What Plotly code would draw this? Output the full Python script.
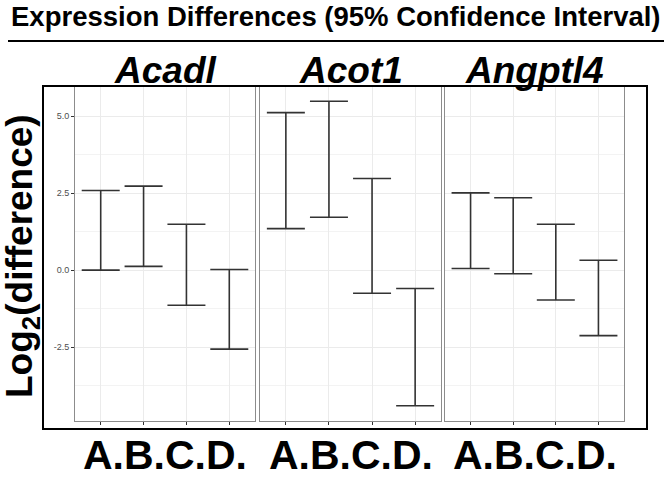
import plotly.graph_objects as go

# values (log2 difference, 95% CI)
genes = ['Acadl', 'Acot1', 'Angptl4']
groups = ['A', 'B', 'C', 'D']
acadl_lo = [0.00, 0.12, -1.14, -2.57]
acadl_hi = [2.59, 2.73, 1.49, 0.02]
acot1_lo = [1.35, 1.72, -0.75, -4.41]
acot1_hi = [5.12, 5.49, 2.98, -0.60]
angptl4_lo = [0.05, -0.12, -0.97, -2.13]
angptl4_hi = [2.51, 2.35, 1.49, 0.32]
y_ticks = [-2.5, 0.0, 2.5, 5.0]
group_label = 'A.B.C.D.'

W, H = 670, 478


def px(x):
    return x / W


def py(y):
    return 1 - y / H


lows = [acadl_lo, acot1_lo, angptl4_lo]
highs = [acadl_hi, acot1_hi, angptl4_hi]

all_vals = sum(lows, []) + sum(highs, [])
span = max(all_vals) - min(all_vals)
y_range = [min(all_vals) - 0.05 * span, max(all_vals) + 0.05 * span]

panels = [(75, 255), (260, 441), (445, 624)]
y_dom = [py(421), py(86)]

fig = go.Figure()

for n, gene in enumerate(genes):
    lo, hi = lows[n], highs[n]
    mid = [(a + b) / 2 for a, b in zip(lo, hi)]
    ax = '' if n == 0 else str(n + 1)
    fig.add_trace(go.Scatter(
        x=groups, y=mid, mode='markers',
        marker=dict(size=1, color='rgba(0,0,0,0)'),
        error_y=dict(type='data', symmetric=False,
                     array=[b - m for b, m in zip(hi, mid)],
                     arrayminus=[m - a for a, m in zip(lo, mid)],
                     width=19, thickness=1.6, color='#333333'),
        xaxis='x' + ax, yaxis='y' + ax, showlegend=False, hoverinfo='skip'))

    xa = dict(domain=[px(panels[n][0]), px(panels[n][1])], type='category',
              range=[-0.6, 3.6], showticklabels=False, ticks='outside',
              ticklen=3, tickcolor='#333333', showgrid=True,
              gridcolor='#ebebeb', gridwidth=1, showline=True,
              linecolor='#8c8c8c', linewidth=1, mirror=True, zeroline=False,
              anchor='y' + ax)
    ya = dict(domain=y_dom, range=y_range, tickvals=y_ticks,
              ticktext=['%.1f' % v for v in y_ticks], showgrid=True,
              gridcolor='#ebebeb', gridwidth=1,
              minor=dict(tick0=1.25, dtick=2.5, showgrid=True,
                         gridcolor='#f3f3f3', gridwidth=1),
              showline=True, linecolor='#8c8c8c', linewidth=1, mirror=True,
              zeroline=False, anchor='x' + ax,
              ticks='outside' if n == 0 else '', ticklen=3,
              tickcolor='#333333', showticklabels=(n == 0),
              tickfont=dict(family='Liberation Sans', size=9, color='#4d4d4d'))
    fig.update_layout({'xaxis' + ax: xa, 'yaxis' + ax: ya})

    cx = (panels[n][0] + panels[n][1]) / 2
    fig.add_annotation(x=px(cx), y=py(70), xref='paper', yref='paper',
                       text='<b><i>%s</i></b>' % gene, showarrow=False,
                       font=dict(family='Liberation Sans', size=37, color='black'),
                       xanchor='center', yanchor='middle')
    fig.add_annotation(x=px(cx), y=py(455), xref='paper', yref='paper',
                       text='<b>%s</b>' % group_label, showarrow=False,
                       font=dict(family='Liberation Sans', size=41, color='black'),
                       xanchor='center', yanchor='middle')

fig.add_annotation(x=px(336), y=py(17), xref='paper', yref='paper',
                   text='<b>Expression Differences (95% Confidence Interval)</b>',
                   showarrow=False,
                   font=dict(family='Liberation Sans', size=27.5, color='black'),
                   xanchor='center', yanchor='middle')
fig.add_annotation(x=px(22), y=py(256), xref='paper', yref='paper',
                   text='<b>Log<sub>2</sub>(difference)</b>', showarrow=False,
                   textangle=-90,
                   font=dict(family='Liberation Sans', size=37, color='black'),
                   xanchor='center', yanchor='middle')

fig.add_shape(type='line', xref='paper', yref='paper',
              x0=px(8), x1=px(664), y0=py(41), y1=py(41),
              line=dict(color='black', width=2))
fig.add_shape(type='rect', xref='paper', yref='paper',
              x0=px(43), x1=px(647), y0=py(429), y1=py(86),
              line=dict(color='black', width=2))

fig.update_layout(width=W, height=H, margin=dict(l=0, r=0, t=0, b=0),
                  paper_bgcolor='white', plot_bgcolor='white')

# the page body has an 8px default margin; drop it so the figure sits at 0,0
fig.write_html('out.html', config={'displayModeBar': False},
               post_script="document.body.style.margin='0';"
                           "document.documentElement.style.overflow='hidden';")
